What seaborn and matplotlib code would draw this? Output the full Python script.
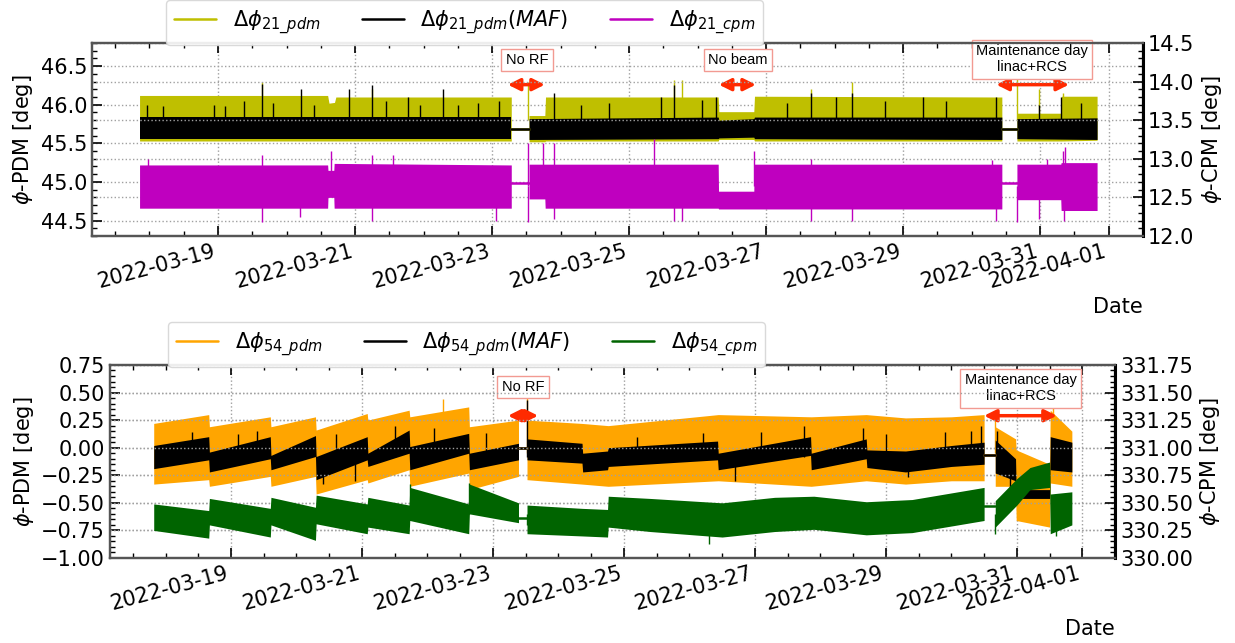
import numpy as np
import pandas as pd
import matplotlib
matplotlib.use("Agg")
import matplotlib.pyplot as plt
import matplotlib.dates as mdates
from matplotlib.ticker import MultipleLocator, AutoMinorLocator
import seaborn as sns

sns.set_style("ticks")
plt.rcParams["font.family"] = ["DejaVu Sans"]
plt.rcParams["mathtext.fontset"] = "dejavusans"
plt.rcParams.update({"text.color": "black", "axes.labelcolor": "black",
                     "xtick.color": "black", "ytick.color": "black"})

nan = np.nan
START = np.datetime64("2022-03-17T00:00")   # day 0 of all *_day arrays

# ------------------------------------------------------------------ top panel
pdm21_day  = [0.855, 3.60, 3.62, 3.70, 3.72, 6.28, nan, 6.54, 6.77, 6.78, 9.30, 9.31, 9.82, 9.83, 13.44, nan, 13.66, 14.30, 14.31, 14.83]
pdm21_low  = [45.53, 45.53, 45.53, 45.53, 45.53, 45.53, nan, 45.52, 45.52, 45.53, 45.53, 45.55, 45.55, 45.53, 45.53, nan, 45.53, 45.53, 45.53, 45.54]
pdm21_high = [46.12, 46.12, 46.02, 46.03, 46.10, 46.10, nan, 45.86, 45.86, 46.10, 46.10, 45.91, 45.91, 46.11, 46.10, nan, 45.89, 45.89, 46.11, 46.11]

maf21_day  = [0.855, 6.28, nan, 6.54, 9.30, 9.31, 9.82, 9.83, 13.44, nan, 13.66, 14.83]
maf21_low  = [45.55, 45.55, nan, 45.55, 45.56, 45.57, 45.58, 45.56, 45.55, nan, 45.56, 45.55]
maf21_high = [45.84, 45.84, nan, 45.82, 45.84, 45.80, 45.82, 45.84, 45.84, nan, 45.82, 45.83]

cpm21_day  = [0.855, 3.60, 3.605, 3.69, 3.695, 6.28, nan, 6.54, 6.77, 6.775, 9.30, 9.305, 9.82, 9.825, 13.44, nan, 13.66, 14.30, 14.305, 14.83]
cpm21_low  = [12.36, 12.36, 12.50, 12.50, 12.36, 12.36, nan, 12.48, 12.48, 12.36, 12.36, 12.35, 12.35, 12.35, 12.35, nan, 12.47, 12.47, 12.33, 12.33]
cpm21_high = [12.92, 12.92, 12.85, 12.85, 12.94, 12.92, nan, 12.93, 12.93, 12.93, 12.93, 12.58, 12.58, 12.93, 12.93, nan, 12.93, 12.93, 12.95, 12.95]

gap21_start = [6.28, 13.44]
gap21_end   = [6.54, 13.66]
gap21_maf   = [45.68, 45.69]
gap21_cpm   = [12.68, 12.69]

maf21_spike_day = [0.96, 1.20, 1.94, 2.10, 2.38, 2.64, 2.80, 3.21, 3.40, 3.91, 4.25, 4.45, 4.77, 4.95, 5.29, 5.50, 5.79, 6.10,
                   6.91, 7.30, 7.70, 8.47, 8.65, 9.07, 9.27, 10.30, 10.66, 11.02, 11.25, 11.73, 12.29, 12.62, 13.36, 13.98, 14.30, 14.60]
maf21_spike_val = [46.00, 45.98, 46.00, 45.98, 46.05, 46.27, 46.02, 46.21, 46.00, 46.20, 46.25, 46.05, 46.10, 46.00, 46.20, 46.00, 46.02, 46.05,
                   46.15, 46.00, 46.02, 46.10, 46.26, 46.06, 46.10, 46.02, 46.15, 46.10, 46.15, 46.05, 46.10, 46.05, 46.10, 46.00, 46.10, 46.02]
pdm21_spike_day = [2.64, 4.25, 6.53, 8.65, 8.77, 10.66, 11.25, 13.66, 13.98, 14.33]
pdm21_spike_val = [46.29, 46.20, 46.30, 46.32, 46.32, 46.20, 46.30, 46.35, 46.20, 46.15]
cpm21_spike_day = [0.98, 2.64, 3.645, 4.25, 4.55, 6.53, 6.75, 6.91, 8.36, 9.82, 10.66, 13.30, 14.10, 14.33, 14.36,
                   2.64, 3.20, 4.25, 6.05, 6.53, 6.91, 8.65, 8.77, 10.66, 11.25, 13.36, 13.66, 13.98, 14.35]
cpm21_spike_val = [13.00, 13.05, 13.10, 13.05, 13.05, 13.20, 13.20, 13.20, 13.25, 13.10, 13.00, 12.98, 13.00, 13.10, 13.15,
                   12.18, 12.25, 12.20, 12.20, 12.18, 12.22, 12.20, 12.20, 12.20, 12.20, 12.20, 12.18, 12.22, 12.20]

# --------------------------------------------------------------- bottom panel
maf54_day  = [0.82, 1.66, 1.67, 2.60, 2.61, 3.29, 3.30, 4.08, 4.09, 4.72, 4.73, 5.63, 5.64, 6.39, nan, 6.52, 7.36, 7.37, 7.75, 7.76,
              9.43, 9.44, 10.85, 10.86, 11.70, 11.71, 12.30, 13.00, 13.50, nan, 13.67, 13.98, 13.99, 14.50, 14.51, 14.84]
maf54_low  = [-0.19, -0.11, -0.22, -0.10, -0.20, -0.08, -0.29, -0.11, -0.17, -0.05, -0.20, -0.05, -0.20, -0.11, nan, -0.11, -0.14, -0.22, -0.20, -0.17,
              -0.11, -0.20, -0.07, -0.20, -0.10, -0.18, -0.22, -0.17, -0.15, nan, -0.23, -0.30, -0.46, -0.46, -0.20, -0.22]
maf54_high = [0.02, 0.10, -0.04, 0.10, -0.07, 0.11, -0.08, 0.10, -0.05, 0.16, 0.01, 0.13, -0.05, 0.04, nan, 0.08, 0.04, -0.05, -0.03, 0.00,
              0.06, -0.05, 0.10, -0.05, 0.08, -0.02, -0.03, 0.02, 0.05, nan, 0.07, -0.10, -0.38, -0.38, 0.10, 0.05]

pdm54_day  = [0.82, 1.66, 1.67, 2.60, 2.61, 3.29, 3.30, 4.08, 4.09, 4.72, 4.73, 5.63, 5.64, 6.39, nan, 6.52, 7.36, 7.76,
              9.44, 10.86, 11.70, 12.30, 13.00, 13.50, nan, 13.67, 13.98, 13.99, 14.50, 14.51, 14.84]
pdm54_low  = [-0.33, -0.29, -0.35, -0.26, -0.35, -0.26, -0.42, -0.29, -0.32, -0.20, -0.35, -0.23, -0.38, -0.26, nan, -0.29, -0.33, -0.35,
              -0.30, -0.35, -0.30, -0.33, -0.30, -0.30, nan, -0.35, -0.35, -0.66, -0.72, -0.32, -0.35]
pdm54_high = [0.22, 0.30, 0.19, 0.28, 0.19, 0.28, 0.16, 0.31, 0.25, 0.34, 0.28, 0.37, 0.19, 0.25, nan, 0.25, 0.22, 0.20,
              0.30, 0.28, 0.30, 0.27, 0.28, 0.30, nan, 0.19, 0.08, -0.02, -0.15, 0.34, 0.15]

cpm54_day  = [0.82, 1.66, 1.67, 2.60, 2.61, 3.29, 3.30, 4.08, 4.09, 4.72, 4.73, 5.63, 5.64, 6.39, nan, 6.52, 7.36, 7.75, 7.76,
              8.40, 9.50, 10.30, 10.90, 11.70, 12.40, 13.50, nan, 13.67, 14.00, 14.20, 14.50, 14.51, 14.84]
cpm54_low  = [330.25, 330.18, 330.30, 330.19, 330.30, 330.16, 330.31, 330.22, 330.28, 330.22, 330.34, 330.22, 330.40, 330.32, nan, 330.22, 330.20, 330.19, 330.28,
              330.24, 330.19, 330.24, 330.26, 330.21, 330.23, 330.34, nan, 330.28, 330.48, 330.62, 330.64, 330.22, 330.30]
cpm54_high = [330.49, 330.43, 330.54, 330.45, 330.55, 330.46, 330.57, 330.49, 330.55, 330.48, 330.64, 330.49, 330.67, 330.50, nan, 330.48, 330.45, 330.44, 330.56,
              330.54, 330.50, 330.55, 330.56, 330.51, 330.53, 330.64, nan, 330.52, 330.72, 330.82, 330.87, 330.58, 330.60]

gap54_start = [6.39, 13.50]
gap54_end   = [6.52, 13.67]
gap54_maf   = [0.00, -0.07]
gap54_cpm   = [330.363, 330.47]

maf54_spike_day = [1.40, 2.10, 2.40, 3.40, 3.60, 3.90, 4.50, 5.10, 5.90, 6.52, 8.20, 9.20, 9.70, 10.10, 10.75, 11.65, 12.00, 12.34, 12.90, 13.30, 13.45, 13.70, 13.90]
maf54_spike_val = [0.14, 0.12, 0.15, -0.33, 0.12, -0.30, 0.20, 0.18, 0.13, 0.43, 0.10, 0.13, -0.30, 0.14, 0.20, 0.18, 0.12, -0.27, 0.14, 0.15, 0.20, 0.15, -0.38]
pdm54_spike_day = [5.24, 6.52, 13.67, 14.55]
pdm54_spike_val = [0.44, 0.45, 0.30, 0.40]
cpm54_spike_day = [4.73, 5.64, 6.52, 9.30, 13.67, 14.60]
cpm54_spike_val = [330.67, 330.68, 330.30, 330.13, 330.22, 330.20]

# -------------------------------------------------------------- annotations
ann_top = [("No RF", 6.51, 46.58, 6.23, 6.77, 46.26),
           ("No beam", 9.59, 46.58, 9.31, 9.85, 46.26),
           ("Maintenance day\nlinac+RCS", 13.88, 46.59, 13.36, 14.42, 46.26)]
ann_bot = [("No RF", 6.46, 0.55, 6.23, 6.69, 0.29),
           ("Maintenance day\nlinac+RCS", 14.06, 0.54, 13.50, 14.61, 0.29)]

X0 = mdates.date2num(START)

def xs(days):
    return X0 + np.asarray(days, float)

def draw_band(ax, days, low, high, color, z):
    d = np.asarray(days, float); lo = np.asarray(low, float); hi = np.asarray(high, float)
    start = 0
    for i in list(np.where(np.isnan(d))[0]) + [len(d)]:
        if i - start > 1:
            ax.fill_between(xs(d[start:i]), lo[start:i], hi[start:i], color=color, lw=0, zorder=z)
        start = i + 1

def gap_lines(ax, starts, ends, vals, color, label):
    handle = None
    for s, e, v in zip(starts, ends, vals):
        df = pd.DataFrame({"x": xs([s, e]), "y": [v, v]})
        sns.lineplot(data=df, x="x", y="y", ax=ax, color=color, lw=1.8, legend=False, zorder=4)
        if handle is None:
            handle = ax.lines[-1]
    handle.set_label(label)
    return handle

def spikes(ax, days, vals, base, color, z):
    ax.vlines(xs(days), base, vals, color=color, lw=1.0, zorder=z)

GREY = "#555555"
ARROW = "#ff2a00"

def style(ax, ax2, xlim, ylim, ylim2, ystep, ystep2):
    ax.set_xlim(X0 + xlim[0], X0 + xlim[1])
    ax.set_ylim(*ylim); ax2.set_ylim(*ylim2)
    ax.xaxis.set_major_locator(mdates.DayLocator(bymonthday=range(1, 32, 2)))
    ax.xaxis.set_minor_locator(mdates.HourLocator(byhour=[0, 12]))
    ax.xaxis.set_major_formatter(mdates.DateFormatter("%Y-%m-%d"))
    ax.yaxis.set_major_locator(MultipleLocator(ystep)); ax.yaxis.set_minor_locator(AutoMinorLocator(5))
    ax2.yaxis.set_major_locator(MultipleLocator(ystep2)); ax2.yaxis.set_minor_locator(AutoMinorLocator(5))
    for a in (ax, ax2):
        a.tick_params(which="both", direction="in", labelsize=15, colors="black")
        a.tick_params(which="major", length=7, width=1.2)
        a.tick_params(which="minor", length=3.5, width=1)
    ax.tick_params(axis="x", which="both", top=True)
    ax.tick_params(axis="y", which="both", left=True, right=False)
    ax2.tick_params(axis="y", which="both", right=True, left=False)
    ax.grid(True, which="major", ls=":", color="#a0a0a0", lw=1)
    ax2.grid(True, axis="y", which="major", ls=":", color="#a0a0a0", lw=1)
    for a in (ax, ax2):
        for s in a.spines.values():
            s.set_color(GREY); s.set_linewidth(1.6)
    ax2.spines["right"].set_color("black"); ax2.spines["right"].set_linewidth(2.2)
    plt.setp(ax.get_xticklabels(), rotation=15, ha="right")
    ax.set_xlabel("Date", loc="right", fontsize=15)
    ax2.set_xlabel("")

def annotate(ax, items):
    for txt, tx, ty, a0, a1, ay in items:
        ax.annotate("", xy=(X0 + a0, ay), xytext=(X0 + a1, ay),
                    arrowprops=dict(arrowstyle="<|-|>", color=ARROW, lw=2.5, mutation_scale=18,
                                    shrinkA=0, shrinkB=0), zorder=6)
        ax.text(X0 + tx, ty, txt, ha="center", va="center", fontsize=10.5, family=["Liberation Sans"],
                multialignment="center", zorder=7,
                bbox=dict(boxstyle="square,pad=0.3", fc="white", ec="#f29a92", lw=1))

fig = plt.figure(figsize=(12.35, 6.43), dpi=100)

# ---- top
ax1 = fig.add_axes([0.0745, 0.6330, 0.8510, 0.3002])
ax1b = ax1.twinx()
draw_band(ax1, pdm21_day, pdm21_low, pdm21_high, "y", 2)
spikes(ax1, pdm21_spike_day, pdm21_spike_val, 45.8, "y", 2)
h_y = gap_lines(ax1, gap21_start, gap21_end, gap21_maf, "y", r"$\Delta\phi_{21\_pdm}$")
draw_band(ax1, maf21_day, maf21_low, maf21_high, "k", 3)
spikes(ax1, maf21_spike_day, maf21_spike_val, 45.68, "k", 3)
h_k = gap_lines(ax1, gap21_start, gap21_end, gap21_maf, "k", r"$\Delta\phi_{21\_pdm}(MAF)$")
draw_band(ax1b, cpm21_day, cpm21_low, cpm21_high, "m", 2)
spikes(ax1b, cpm21_spike_day, cpm21_spike_val, 12.65, "m", 2)
h_m = gap_lines(ax1b, gap21_start, gap21_end, gap21_cpm, "m", r"$\Delta\phi_{21\_cpm}$")
style(ax1, ax1b, (0.161, 15.50), (44.3, 46.8), (12.0, 14.5), 0.5, 0.5)
ax1.set_ylabel(r"$\phi$-PDM [deg]", fontsize=15)
ax1b.set_ylabel(r"$\phi$-CPM [deg]", fontsize=15)
annotate(ax1, ann_top)
leg = ax1b.legend([h_y, h_k, h_m], [h.get_label() for h in (h_y, h_k, h_m)], ncol=3, loc="lower left",
                  bbox_to_anchor=(0.0704, 0.99), borderaxespad=0, fontsize=15, fancybox=True,
                  framealpha=0.9, edgecolor="#d5d5d5")
leg.set_zorder(10)

# ---- bottom
ax2 = fig.add_axes([0.0891, 0.1322, 0.8138, 0.3002])
ax2b = ax2.twinx()
draw_band(ax2, pdm54_day, pdm54_low, pdm54_high, "orange", 2)
spikes(ax2, pdm54_spike_day, pdm54_spike_val, -0.05, "orange", 2)
h_o = gap_lines(ax2, gap54_start, gap54_end, gap54_maf, "orange", r"$\Delta\phi_{54\_pdm}$")
draw_band(ax2, maf54_day, maf54_low, maf54_high, "k", 3)
spikes(ax2, maf54_spike_day, maf54_spike_val, -0.08, "k", 3)
h_k2 = gap_lines(ax2, gap54_start, gap54_end, gap54_maf, "k", r"$\Delta\phi_{54\_pdm}(MAF)$")
draw_band(ax2b, cpm54_day, cpm54_low, cpm54_high, "darkgreen", 2)
spikes(ax2b, cpm54_spike_day, cpm54_spike_val, 330.4, "darkgreen", 2)
h_g = gap_lines(ax2b, gap54_start, gap54_end, gap54_cpm, "darkgreen", r"$\Delta\phi_{54\_cpm}$")
style(ax2, ax2b, (0.153, 15.50), (-1.0, 0.75), (330.0, 331.75), 0.25, 0.25)
ax2.set_ylabel(r"$\phi$-PDM [deg]", fontsize=15)
ax2b.set_ylabel(r"$\phi$-CPM [deg]", fontsize=15)
annotate(ax2, ann_bot)
leg2 = ax2b.legend([h_o, h_k2, h_g], [h.get_label() for h in (h_o, h_k2, h_g)], ncol=3, loc="lower left",
                   bbox_to_anchor=(0.0577, 0.99), borderaxespad=0, fontsize=15, fancybox=True,
                   framealpha=0.9, edgecolor="#d5d5d5")

fig.savefig("out.png", dpi=100)
